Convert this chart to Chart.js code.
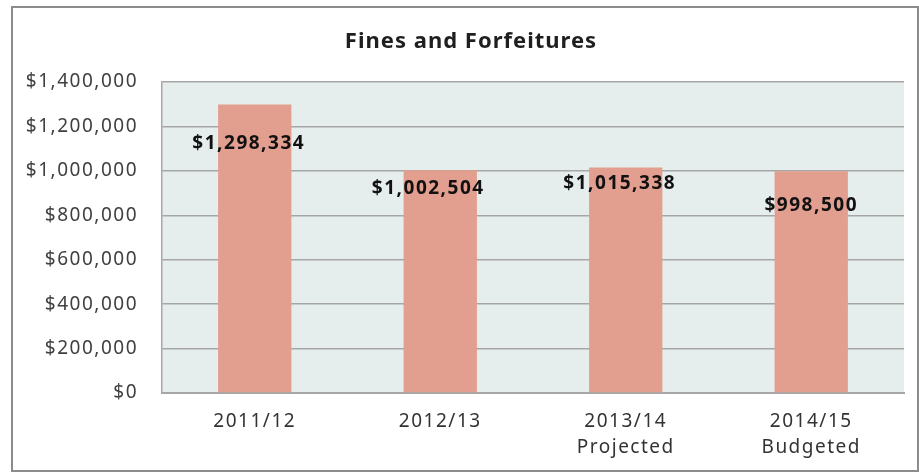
<!DOCTYPE html>
<html>
<head>
<meta charset="utf-8">
<script src="https://cdn.jsdelivr.net/npm/chart.js@4/dist/chart.umd.min.js"></script>
<style>
    html, body { margin: 0; padding: 0; background: #fff; }
    #wrap { width: 919px; height: 473px; }
</style>
</head>
<body>
<div id="wrap"><canvas id="finesChart" width="919" height="473"></canvas></div>
<script>
const chartTitle = 'Fines and Forfeitures';
const categories = [['2011/12'], ['2012/13'], ['2013/14', 'Projected'], ['2014/15', 'Budgeted']];
const amounts = [1298334, 1002504, 1015338, 998500];
const yTicks = [0, 200000, 400000, 600000, 800000, 1000000, 1200000, 1400000];

// value labels were nudged by hand in the original: offset from bar top centre (px)
const labelDrop = [39, 18, 16, 34];
const labelShift = [-6, -12, -6, 0];

const fontFamily = '"Noto Sans", "Open Sans", sans-serif';
const spacing = '1.5px';

function money(v) {
    return '$' + Number(v).toLocaleString('en-US');
}

const frame = {
    id: 'frame',
    beforeLayout: (chart) => {
        chart.ctx.letterSpacing = spacing;
    },
    beforeDraw: (chart) => {
        const ctx = chart.ctx;
        const area = chart.chartArea;
        ctx.letterSpacing = spacing;
        ctx.save();
        ctx.fillStyle = '#ffffff';
        ctx.fillRect(0, 0, chart.width, chart.height);
        // plot background
        ctx.fillStyle = '#e6eeed';
        ctx.fillRect(area.left, area.top, area.right - area.left, area.bottom - area.top);
        ctx.restore();
    },
    afterDraw: (chart) => {
        const ctx = chart.ctx;
        ctx.save();
        // outer border
        ctx.strokeStyle = '#8c8c8c';
        ctx.lineWidth = 2;
        ctx.strokeRect(12, 7, 906, 464);
        // title
        ctx.fillStyle = '#1f1f1f';
        ctx.font = 'bold 22px ' + fontFamily;
        ctx.letterSpacing = '1px';
        ctx.textAlign = 'center';
        ctx.textBaseline = 'middle';
        ctx.fillText(chartTitle, 471, 42);
        // value labels
        const meta = chart.getDatasetMeta(0);
        ctx.font = 'bold 19px ' + fontFamily;
        ctx.letterSpacing = spacing;
        ctx.fillStyle = '#111111';
        meta.data.forEach((bar, i) => {
            ctx.fillText(money(amounts[i]), bar.x + labelShift[i], bar.y + labelDrop[i]);
        });
        ctx.restore();
    }
};

new Chart(document.getElementById('finesChart'), {
    type: 'bar',
    data: {
        labels: categories,
        datasets: [{
            label: chartTitle,
            data: amounts,
            backgroundColor: '#e29e8e',
            borderWidth: 0,
            barPercentage: 0.79,
            categoryPercentage: 0.5
        }]
    },
    plugins: [frame],
    options: {
        responsive: false,
        animation: false,
        layout: {
            padding: { top: 82, right: 15, left: 0, bottom: 0 }
        },
        plugins: {
            legend: { display: false },
            title: { display: false },
            tooltip: { enabled: false }
        },
        scales: {
            x: {
                grid: { display: false, drawTicks: false },
                border: { display: true, color: '#a6a6a6', width: 2 },
                ticks: {
                    color: '#333333',
                    font: { family: fontFamily, size: 19, lineHeight: 1.35 },
                    padding: 16,
                    maxRotation: 0
                },
                afterFit: (scale) => { scale.height = 80; }
            },
            y: {
                min: 0,
                max: 1400000,
                afterBuildTicks: (scale) => {
                    scale.ticks = yTicks.map(v => ({ value: v }));
                },
                grid: { color: '#a6a6a6', lineWidth: 1.5, drawTicks: false },
                border: { display: true, color: '#a6a6a6', width: 1.5 },
                ticks: {
                    color: '#404040',
                    font: { family: fontFamily, size: 19 },
                    padding: 24,
                    callback: (v) => money(v)
                },
                afterFit: (scale) => { scale.width = 162; }
            }
        }
    }
});
</script>
</body>
</html>
